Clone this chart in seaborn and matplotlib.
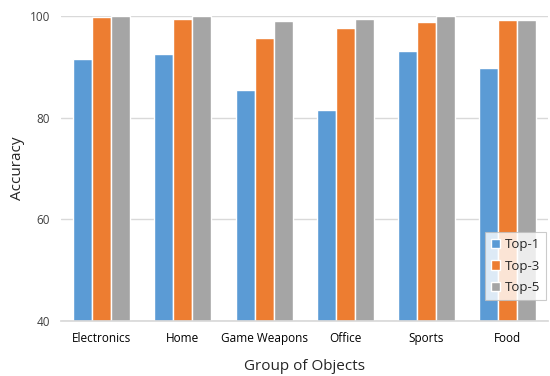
import matplotlib
matplotlib.use("Agg")
import matplotlib.pyplot as plt
import seaborn as sns
import pandas as pd

groups = ["Electronics", "Home", "Game Weapons", "Office", "Sports", "Food"]
top1 = [91.5, 92.5, 85.5, 81.6, 93.1, 89.8]
top3 = [99.8, 99.4, 95.8, 97.6, 98.8, 99.3]
top5 = [100.0, 100.0, 99.0, 99.5, 100.0, 99.3]
series = ["Top-1", "Top-3", "Top-5"]
colors = ["#5B9BD5", "#ED7D31", "#A5A5A5"]

df = pd.DataFrame({
    "group": groups * 3,
    "acc": top1 + top3 + top5,
    "series": [s for s in series for _ in groups],
})

sns.set_theme(style="white")
plt.rcParams["font.family"] = ["Open Sans", "DejaVu Sans"]

fig, ax = plt.subplots(figsize=(5.5, 3.76), dpi=100)
fig.subplots_adjust(left=0.111, right=0.997, top=0.957, bottom=0.146)

sns.barplot(data=df, x="group", y="acc", hue="series", palette=colors,
            width=0.7, edgecolor="white", linewidth=1, ax=ax, saturation=1)

ax.set_ylim(40, 100)
ax.set_yticks([40, 60, 80, 100])
ax.yaxis.grid(True, color="#D9D9D9", linewidth=1)
ax.set_axisbelow(True)
for s in ["top", "right", "left"]:
    ax.spines[s].set_visible(False)
ax.spines["bottom"].set_color("#D9D9D9")
ax.tick_params(axis="y", length=0, labelsize=8.5, colors="#404040", pad=8)
ax.tick_params(axis="x", length=0, labelsize=8.5, labelcolor="black", pad=8)

ax.set_ylabel("Accuracy", fontsize=11, labelpad=3)
ax.set_xlabel("Group of Objects", fontsize=11, labelpad=10)

leg = ax.legend(loc="lower right", bbox_to_anchor=(1.0, 0.06), fontsize=9.5,
                frameon=True, fancybox=False, edgecolor="#BFBFBF",
                handlelength=0.7, handleheight=0.7, handletextpad=0.35,
                borderpad=0.45, labelspacing=0.65, borderaxespad=0.2)
leg.get_frame().set_linewidth(0.8)

plt.savefig("out.png", dpi=100)
plt.close()
